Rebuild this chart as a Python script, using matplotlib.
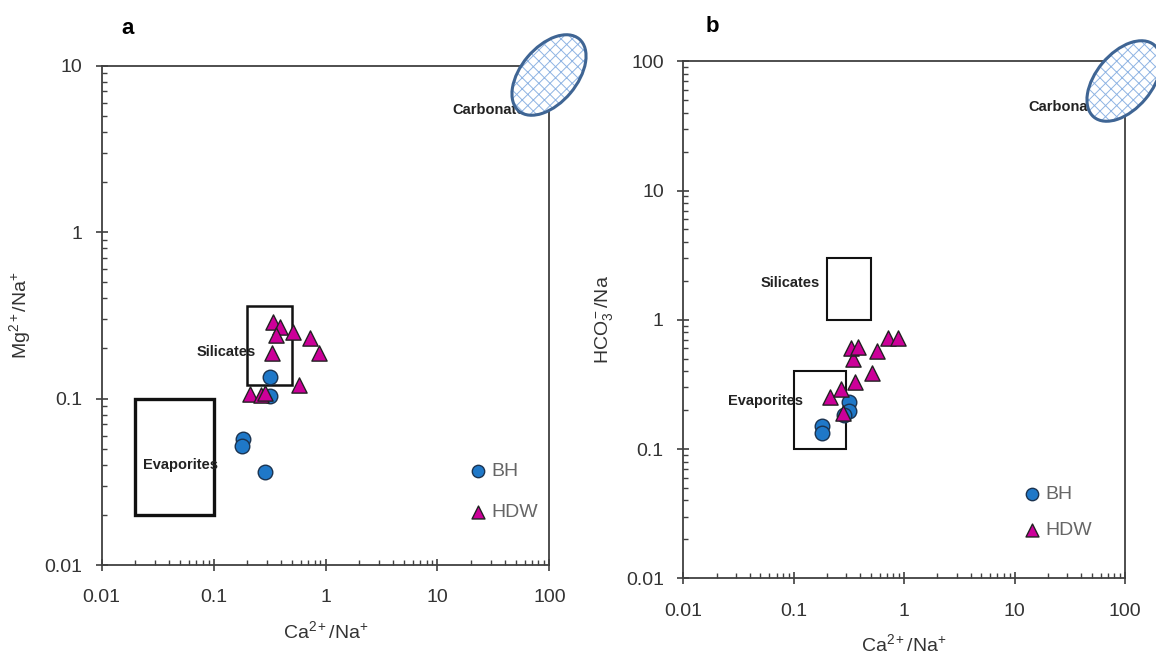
import numpy as np
import matplotlib
matplotlib.use('Agg')
import matplotlib.pyplot as plt
from matplotlib.patches import Ellipse, Rectangle
from matplotlib.ticker import LogLocator, FuncFormatter, NullFormatter

plt.rcParams['font.family'] = ['Liberation Sans', 'DejaVu Sans']
plt.rcParams['mathtext.fontset'] = 'custom'
plt.rcParams['mathtext.rm'] = 'Liberation Sans'
plt.rcParams['mathtext.it'] = 'Liberation Sans'
plt.rcParams['hatch.linewidth'] = 0.7

# %% data
# panel a: Mg/Na vs Ca/Na
bh_ca_a = [0.183, 0.180, 0.287, 0.318, 0.318]
bh_mg_a = [0.057, 0.052, 0.036, 0.135, 0.104]
hdw_ca_a = [0.340, 0.391, 0.360, 0.514, 0.724, 0.877, 0.332, 0.574, 0.211, 0.265, 0.285]
hdw_mg_a = [0.287, 0.270, 0.241, 0.252, 0.230, 0.188, 0.188, 0.120, 0.107, 0.105, 0.108]

# panel b: HCO3/Na vs Ca/Na
bh_ca_b = [0.179, 0.179, 0.317, 0.317, 0.285]
bh_hco3_b = [0.151, 0.134, 0.232, 0.198, 0.183]
hdw_ca_b = [0.213, 0.267, 0.359, 0.515, 0.281, 0.347, 0.328, 0.385, 0.571, 0.720, 0.885]
hdw_hco3_b = [0.251, 0.292, 0.332, 0.390, 0.190, 0.494, 0.602, 0.612, 0.577, 0.720, 0.720]

# end-member domains (x0, x1, y0, y1)
sil_a = (0.2, 0.5, 0.12, 0.36)
evap_a = (0.02, 0.1, 0.02, 0.1)
sil_b = (0.2, 0.5, 1.0, 3.0)
evap_b = (0.1, 0.3, 0.1, 0.4)

circ_col = '#1F78C8'
tri_col = '#CC0099'
frame_col = '#404040'


def style_axis(ax, ylim, ylabel):
    ax.set_xscale('log')
    ax.set_yscale('log')
    ax.set_xlim(0.01, 100)
    ax.set_ylim(*ylim)
    for s in ax.spines.values():
        s.set_color(frame_col)
        s.set_linewidth(1.3)
    ax.xaxis.set_major_locator(LogLocator(base=10, numticks=10))
    ax.yaxis.set_major_locator(LogLocator(base=10, numticks=10))
    ax.xaxis.set_minor_locator(LogLocator(base=10, subs=np.arange(2, 10), numticks=10))
    ax.yaxis.set_minor_locator(LogLocator(base=10, subs=np.arange(2, 10), numticks=10))
    fmt = FuncFormatter(lambda v, p: '%g' % v)
    ax.xaxis.set_major_formatter(fmt)
    ax.yaxis.set_major_formatter(fmt)
    ax.xaxis.set_minor_formatter(NullFormatter())
    ax.yaxis.set_minor_formatter(NullFormatter())
    ax.tick_params(which='major', direction='inout', length=9, width=1.2,
                   color=frame_col, labelsize=14, labelcolor='#333333')
    ax.tick_params(axis='x', which='major', pad=13)
    ax.tick_params(axis='y', which='major', pad=9.5)
    ax.tick_params(which='minor', direction='in', length=3.5, width=1.0, color=frame_col)
    ax.set_xlabel('Ca$^{2+}$/Na$^{+}$', fontsize=14, color='#333333', labelpad=10)
    ax.set_ylabel(ylabel, fontsize=14, color='#333333', labelpad=8)


def add_box(ax, box, lw):
    x0, x1, y0, y1 = box
    ax.add_patch(Rectangle((x0, y0), x1 - x0, y1 - y0, fill=False,
                           edgecolor='#111111', linewidth=lw, zorder=2))


def add_carbonate(fig, cx, cy):
    # ellipse drawn in inch space so it keeps its shape on log axes
    h = Ellipse((cx / 100, (657 - cy) / 100), 0.94, 0.56, angle=50,
                transform=fig.dpi_scale_trans, facecolor='white',
                edgecolor='#8FB4E3', hatch='xxx', linewidth=0, zorder=5)
    e = Ellipse((cx / 100, (657 - cy) / 100), 0.94, 0.56, angle=50,
                transform=fig.dpi_scale_trans, fill=False,
                edgecolor='#3F6594', linewidth=2.2, zorder=6)
    fig.patches.append(h)
    fig.patches.append(e)


lab_font = dict(fontsize=10.5, fontweight='bold', color='#222222',
                family=['Liberation Sans Narrow', 'Liberation Sans'])

fig = plt.figure(figsize=(11.56, 6.57), dpi=100)
ax1 = fig.add_axes([0.088, 0.14, 0.3872, 0.76])
ax2 = fig.add_axes([0.5911, 0.1198, 0.3821, 0.7869])

# %% panel a
style_axis(ax1, (0.01, 10), 'Mg$^{2+}$/Na$^{+}$')
add_box(ax1, sil_a, 1.8)
add_box(ax1, evap_a, 2.4)
ax1.scatter(bh_ca_a, bh_mg_a, s=110, marker='o', c=circ_col, edgecolors='#1b3350',
            linewidths=1.0, zorder=3, label='BH')
ax1.scatter(hdw_ca_a, hdw_mg_a, s=120, marker='^', c=tri_col, edgecolors='#222222',
            linewidths=1.0, zorder=4, label='HDW')
ax1.text(0.129, 0.19, 'Silicates', ha='center', va='center', zorder=5, **lab_font)
ax1.text(0.051, 0.04, 'Evaporites', ha='center', va='center', zorder=5, **lab_font)
ax1.text(13.7, 5.4, 'Carbonates', ha='left', va='center', zorder=4, **lab_font)
ax1.legend(loc='center left', bbox_to_anchor=(0.805, 0.147), frameon=False,
           fontsize=14, labelcolor='#666666', handlelength=0.8, handletextpad=0.3,
           labelspacing=1.2, borderaxespad=0, markerscale=0.85)
ax1.set_title('a', loc='left', x=0.045, fontsize=16, fontweight='bold', pad=23)

# %% panel b
style_axis(ax2, (0.01, 100), 'HCO$_3^-$/Na')
add_box(ax2, sil_b, 1.5)
add_box(ax2, evap_b, 1.5)
ax2.scatter(bh_ca_b, bh_hco3_b, s=110, marker='o', c=circ_col, edgecolors='#1b3350',
            linewidths=1.0, zorder=3, label='BH')
ax2.scatter(hdw_ca_b, hdw_hco3_b, s=120, marker='^', c=tri_col, edgecolors='#222222',
            linewidths=1.0, zorder=4, label='HDW')
ax2.text(0.0926, 1.93, 'Silicates', ha='center', va='center', zorder=5, **lab_font)
ax2.text(0.055, 0.235, 'Evaporites', ha='center', va='center', zorder=5, **lab_font)
ax2.text(13.2, 44.3, 'Carbonates', ha='left', va='center', zorder=4, **lab_font)
ax2.legend(loc='center left', bbox_to_anchor=(0.754, 0.128), frameon=False,
           fontsize=14, labelcolor='#666666', handlelength=0.8, handletextpad=0.3,
           labelspacing=0.95, borderaxespad=0, markerscale=0.85)
ax2.set_title('b', loc='left', x=0.051, fontsize=16, fontweight='bold', pad=21)

add_carbonate(fig, 549, 75)
add_carbonate(fig, 1124, 81)

fig.savefig('out.png', dpi=100)
